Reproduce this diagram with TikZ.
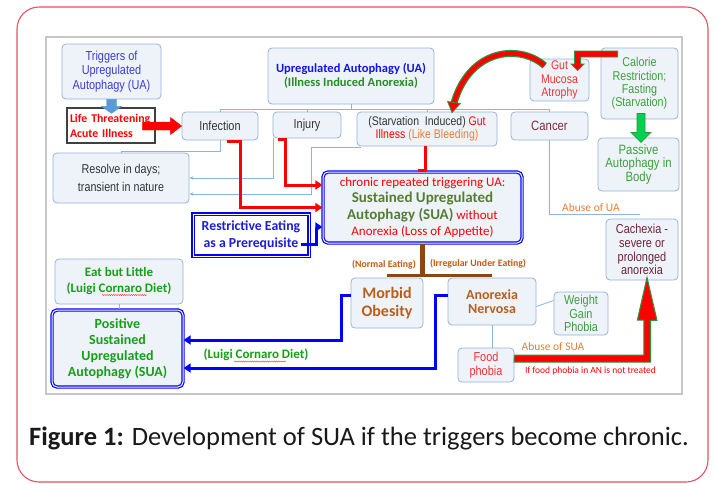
\documentclass[tikz,border=0pt]{standalone}
\usepackage{fontspec}
\setmainfont{Carlito}
\newfontfamily\ar[FakeStretch=0.84]{Liberation Sans}
\usetikzlibrary{calc,arrows.meta,decorations.pathmorphing}
\newcommand{\fs}[2]{\fontsize{#1}{#2}\selectfont}
\definecolor{boxfill}{RGB}{238,243,250}
\definecolor{boxline}{RGB}{149,179,215}
\definecolor{thinline}{RGB}{141,179,226}
\definecolor{trigblue}{RGB}{60,60,210}
\definecolor{uablue}{RGB}{20,20,230}
\definecolor{dkgreen}{RGB}{40,140,40}
\definecolor{calgreen}{RGB}{60,160,60}
\definecolor{suagreen}{RGB}{85,125,50}
\definecolor{brgreen}{RGB}{20,160,20}
\definecolor{brownt}{RGB}{185,95,30}
\definecolor{brownlab}{RGB}{197,90,17}
\definecolor{brownline}{RGB}{140,70,20}
\definecolor{orangel}{RGB}{237,125,49}
\definecolor{maroon}{RGB}{110,35,55}
\definecolor{cancerc}{RGB}{120,45,60}
\definecolor{framered}{RGB}{232,80,95}
\definecolor{arrgreen}{RGB}{0,210,80}
\definecolor{arrgreenb}{RGB}{40,150,60}
\definecolor{lbfill}{RGB}{91,155,213}
\definecolor{restrblue}{RGB}{30,30,210}
\definecolor{gutred}{RGB}{240,50,50}
\tikzset{
  box/.style={draw=boxline, fill=boxfill, rounded corners=4pt, line width=0.8pt, inner sep=0pt, align=center},
  dbl/.style={draw=blue, line width=1.2pt, double=white, double distance=1pt, rounded corners=5pt, inner sep=0pt, align=center},
  thinc/.style={draw=thinline, line width=0.8pt},
  thinarr/.style={thinc, -{Stealth[length=4pt,width=3.5pt]}},
  redarr/.style={draw=red, line width=3pt, -{Triangle[length=7pt,width=9pt]}},
  bluearr/.style={draw=blue, line width=3pt, -{Triangle[length=7pt,width=9pt]}},
  squig/.style={draw=red!80, line width=0.4pt, decorate, decoration={snake, amplitude=0.6pt, segment length=2.2pt}},
  lbl/.style={inner sep=0pt}
}
\begin{document}
\begin{tikzpicture}[x=1pt,y=-1pt]
\useasboundingbox (0,0) rectangle (716,483);
% outer frame
\draw[framered, line width=1.1pt, rounded corners=22pt] (17,7) rectangle (708,482);
% inner diagram frame
\fill[white] (46,37) rectangle (682,394);
\draw[black!22, line width=1.4pt] (46,37) rectangle (682,394);

% nodes
\node[box, minimum width=99pt, minimum height=55pt, font=\ar\fs{13}{14.8}, text=trigblue] (trig) at (111.5,71.5) {Triggers of\\Upregulated\\Autophagy (UA)};
\node[draw=black!75, line width=1.6pt, fill=white, minimum width=88pt, minimum height=35pt, text width=82pt, align=left, inner sep=0pt, font=\bfseries\fs{11.8}{15}, text=red] (life) at (111,125.5) {Life Threatening\\Acute Illness};
\node[box, minimum width=166pt, minimum height=56pt, font=\bfseries\fs{12.5}{13.5}] (ua) at (351,76) {\textcolor{uablue}{Upregulated Autophagy (UA)}\\\textcolor{dkgreen}{(Illness Induced Anorexia)}};
\node[box, minimum width=76pt, minimum height=28pt, font=\ar\fs{13}{14}, text=black!80] (inf) at (220,126) {Infection};
\node[box, minimum width=68pt, minimum height=26pt, font=\ar\fs{13}{14}, text=black!80] (inj) at (307,125) {Injury};
\node[box, minimum width=140pt, minimum height=34pt, font=\ar\fs{12.5}{13.5}, text=black!80] (starv) at (427,129) {(Starvation~~Induced) \textcolor{red}{Gut}\\\textcolor{red}{Illness} \textcolor{orangel}{(Like Bleeding)}};
\node[box, minimum width=77pt, minimum height=28pt, font=\ar\fs{13.5}{14}, text=cancerc] (cancer) at (549.5,126) {Cancer};
\node[box, minimum width=59pt, minimum height=42pt, font=\ar\fs{12.5}{13.5}, text=gutred] (gut) at (559.5,80) {Gut\\Mucosa\\Atrophy};
\node[box, minimum width=77pt, minimum height=71pt, font=\ar\fs{12.8}{13.4}, text=calgreen] (cal) at (639.5,83.5) {Calorie\\Restriction;\\Fasting\\(Starvation)};
\node[box, minimum width=81pt, minimum height=53pt, font=\ar\fs{13.5}{13.6}, text=calgreen] (pass) at (638.5,164.5) {Passive\\Autophagy in\\Body};
\node[box, minimum width=136pt, minimum height=50pt, font=\ar\fs{12.8}{18}, text=black!80] (resolve) at (121,178) {Resolve in days;\\transient~in nature};
\node[dbl, fill=boxfill, minimum width=199pt, minimum height=71pt, font=\fs{13}{16.5}] (sua) at (422.5,207.5) {\textcolor{red}{chronic repeated triggering UA:}\\\textcolor{suagreen}{\fs{15}{16.5}\bfseries Sustained Upregulated}\\\textcolor{suagreen}{\fs{15}{16.5}\bfseries Autophagy (SUA)} \textcolor{red}{without}\\\textcolor{red}{Anorexia (Loss of Appetite)}};
\node[dbl, fill=white, rounded corners=0pt, minimum width=116pt, minimum height=42pt, font=\bfseries\fs{13.8}{17}, text=restrblue] (restr) at (251,235) {Restrictive Eating\\as a Prerequisite};
\node[box, minimum width=72pt, minimum height=61pt, font=\ar\fs{13}{13.8}, text=maroon] (cach) at (642,249.5) {Cachexia -\\severe or\\prolonged\\anorexia};
\node[box, minimum width=128pt, minimum height=45pt, font=\bfseries\fs{13}{16}, text=brgreen] (eat) at (119,281.5) {Eat but Little\\(Luigi Cornaro Diet)};
\node[dbl, fill=boxfill, minimum width=131pt, minimum height=77pt, font=\bfseries\fs{14}{16}, text=brgreen] (pos) at (117.5,348.5) {Positive\\Sustained\\Upregulated\\Autophagy (SUA)};
\node[box, minimum width=72pt, minimum height=50pt, font=\bfseries\fs{16}{18}, text=brownt] (mo) at (387,303) {Morbid\\Obesity};
\node[box, minimum width=88pt, minimum height=47pt, font=\bfseries\fs{14}{14.5}, text=brownt] (an) at (492,301.5) {Anorexia\\Nervosa};
\node[box, minimum width=54pt, minimum height=43pt, font=\ar\fs{13}{13.6}, text=calgreen] (wgp) at (581,313.5) {Weight\\Gain\\Phobia};
\node[box, minimum width=56pt, minimum height=34pt, font=\ar\fs{13}{13.4}, text=gutred] (food) at (486,365) {Food\\phobia};

% labels
\node[lbl, font=\bfseries\fs{9.8}{11}, text=brownlab] (lne) at (384,265) {(Normal Eating)};
\node[lbl, font=\bfseries\fs{9.8}{11}, text=brownlab] (lue) at (478,264) {(Irregular Under Eating)};
\node[lbl, font=\fs{11.5}{13}, text=orangel] (lua) at (591,208) {Abuse of UA};
\node[lbl, font=\fs{11.5}{13}, text=orangel] (lsua) at (553,347) {Abuse of SUA};
\node[lbl, font=\fs{9.5}{11}, text=red] (lif) at (590.5,371) {If food phobia in AN is not treated};
\node[lbl, font=\bfseries\fs{13}{15}, text=brgreen] (llcd) at (256,355) {(Luigi Cornaro Diet)};
\node[lbl, anchor=west, font=\fs{26.5}{30}, text=black!90] (cap) at (29,438) {\textbf{Figure 1:} Development of SUA if the triggers become chronic.};

% spell-check squiggles
\draw[squig] ($(eat.center)+(-17,13.5)$) -- ++(45,0);
\draw[squig] ($(llcd.center)+(-22,6.5)$) -- ++(52,0);

% thin connectors
\coordinate (busc) at ($(ua.south)+(0,5)$);
\draw[thinc] (ua.south) -- (busc);
\draw[thinc] (inf.north) |- (busc) -| (cancer.north);
\draw[thinc] (inj.north) -- (inj.north |- busc);
\draw[thinc] (starv.north) -- (starv.north |- busc);
\draw[thinc] (inf.south) -- ++(0,11) -| (resolve.north);
\draw[thinarr] ($(inj.south west)+(1,0)$) |- (resolve.east);
\draw[thinarr] ($(starv.south west)+(4,1)$) -- ++(-49,0) |- ($(resolve.east)+(0,16)$);
\draw[thinc] (cancer.south) |- ($(cach.north)+(-2,-4)$);
\draw[thinc] (eat.south) -- (eat.south |- pos.north);
\draw[thinc] ($(an.east)+(0,5)$) -- ($(wgp.west)+(0,-13)$);
\draw[thinc] (an.south) -- (an.south |- food.north);

% red connectors
\draw[redarr] ($(inf.south)+(7,1)$) -- ++(13,0) |- (sua.west);
\draw[redarr] ($(inj.south)+(-29,1)$) -- ++(7,0) |- ($(sua.west)+(0,-22.5)$);
\draw[draw=red, line width=3pt] ($(starv.south)+(-2,0)$) -- ++(0,24) -| ($(sua.north)+(-3,1)$);

% blue connectors
\draw[bluearr] ($(restr.east)+(-9,9)$) -- ++(16,0) |- ($(sua.west)+(0,19.5)$);
\draw[bluearr] (mo.west) ++(0,-8) -- ++(-9,0) |- ($(pos.east)+(0,-8.5)$);
\draw[bluearr] (an.west) ++(0,-6.5) -- ++(-12,0) |- ($(pos.east)+(0,19.5)$);

% brown tree
\draw[brownline, line width=5pt] (sua.south) -- ++(0,32) coordinate (bj);
\draw[brownline, line width=3.5pt] (mo.north |- bj) -- (an.north |- bj);

% block arrows
\filldraw[fill=lbfill, draw=lbfill] ($(trig.south)+(-5,0)$) -- ++(0,7) -- ++(-5,0) -- ++(10,7) -- ++(10,-7) -- ++(-5,0) -- ++(0,-7) -- cycle;
\filldraw[fill=red, draw=red] (inf.west) -- ++(-11,-8.5) -- ++(0,4.5) -- ++(-28,0) -- ++(0,8) -- ++(28,0) -- ++(0,4.5) -- cycle;
\filldraw[fill=arrgreen, draw=arrgreenb, line width=0.7pt] ($(cal.south)+(-2.5,-6)$) -- ++(8,0) -- ++(0,19) -- ++(6,0) -- ++(-10,10) -- ++(-10,-10) -- ++(6,0) -- cycle;
\filldraw[fill=red, draw=arrgreenb, line width=0.8pt] ($(cal.west)+(17,-32.5)$) -- ++(-43,0) -- ++(0,13) -- ++(-3.5,0) -- ++(6.5,6.5) -- ++(6.5,-6.5) -- ++(-3.5,0) -- ++(0,-7) -- ++(37,0) -- cycle;
\filldraw[fill=red, draw=arrgreenb, line width=1pt] ($(food.east)+(0,-10)$) -- ++(129.5,0) -- ++(0,-35) -- ++(-6.5,0) -- ($(cach.south)+(5,-3)$) -- ++(10,43) -- ++(-6.5,0) -- ++(0,41.7) -- ++(-136.5,0) -- cycle;
% curved arrow
\draw[arrgreenb, line width=7pt] ($(gut.north west)+(15,7)$) .. controls (520,44) and (470,48) .. (454,103);
\draw[red, line width=4.6pt] ($(gut.north west)+(15,7)$) .. controls (520,44) and (470,48) .. (454,103);
\filldraw[fill=red, draw=arrgreenb, line width=0.8pt] (460.4,103.5) -- ($(starv.north)+(25,1)$) -- (447.6,101.5) -- cycle;
\end{tikzpicture}
\end{document}
